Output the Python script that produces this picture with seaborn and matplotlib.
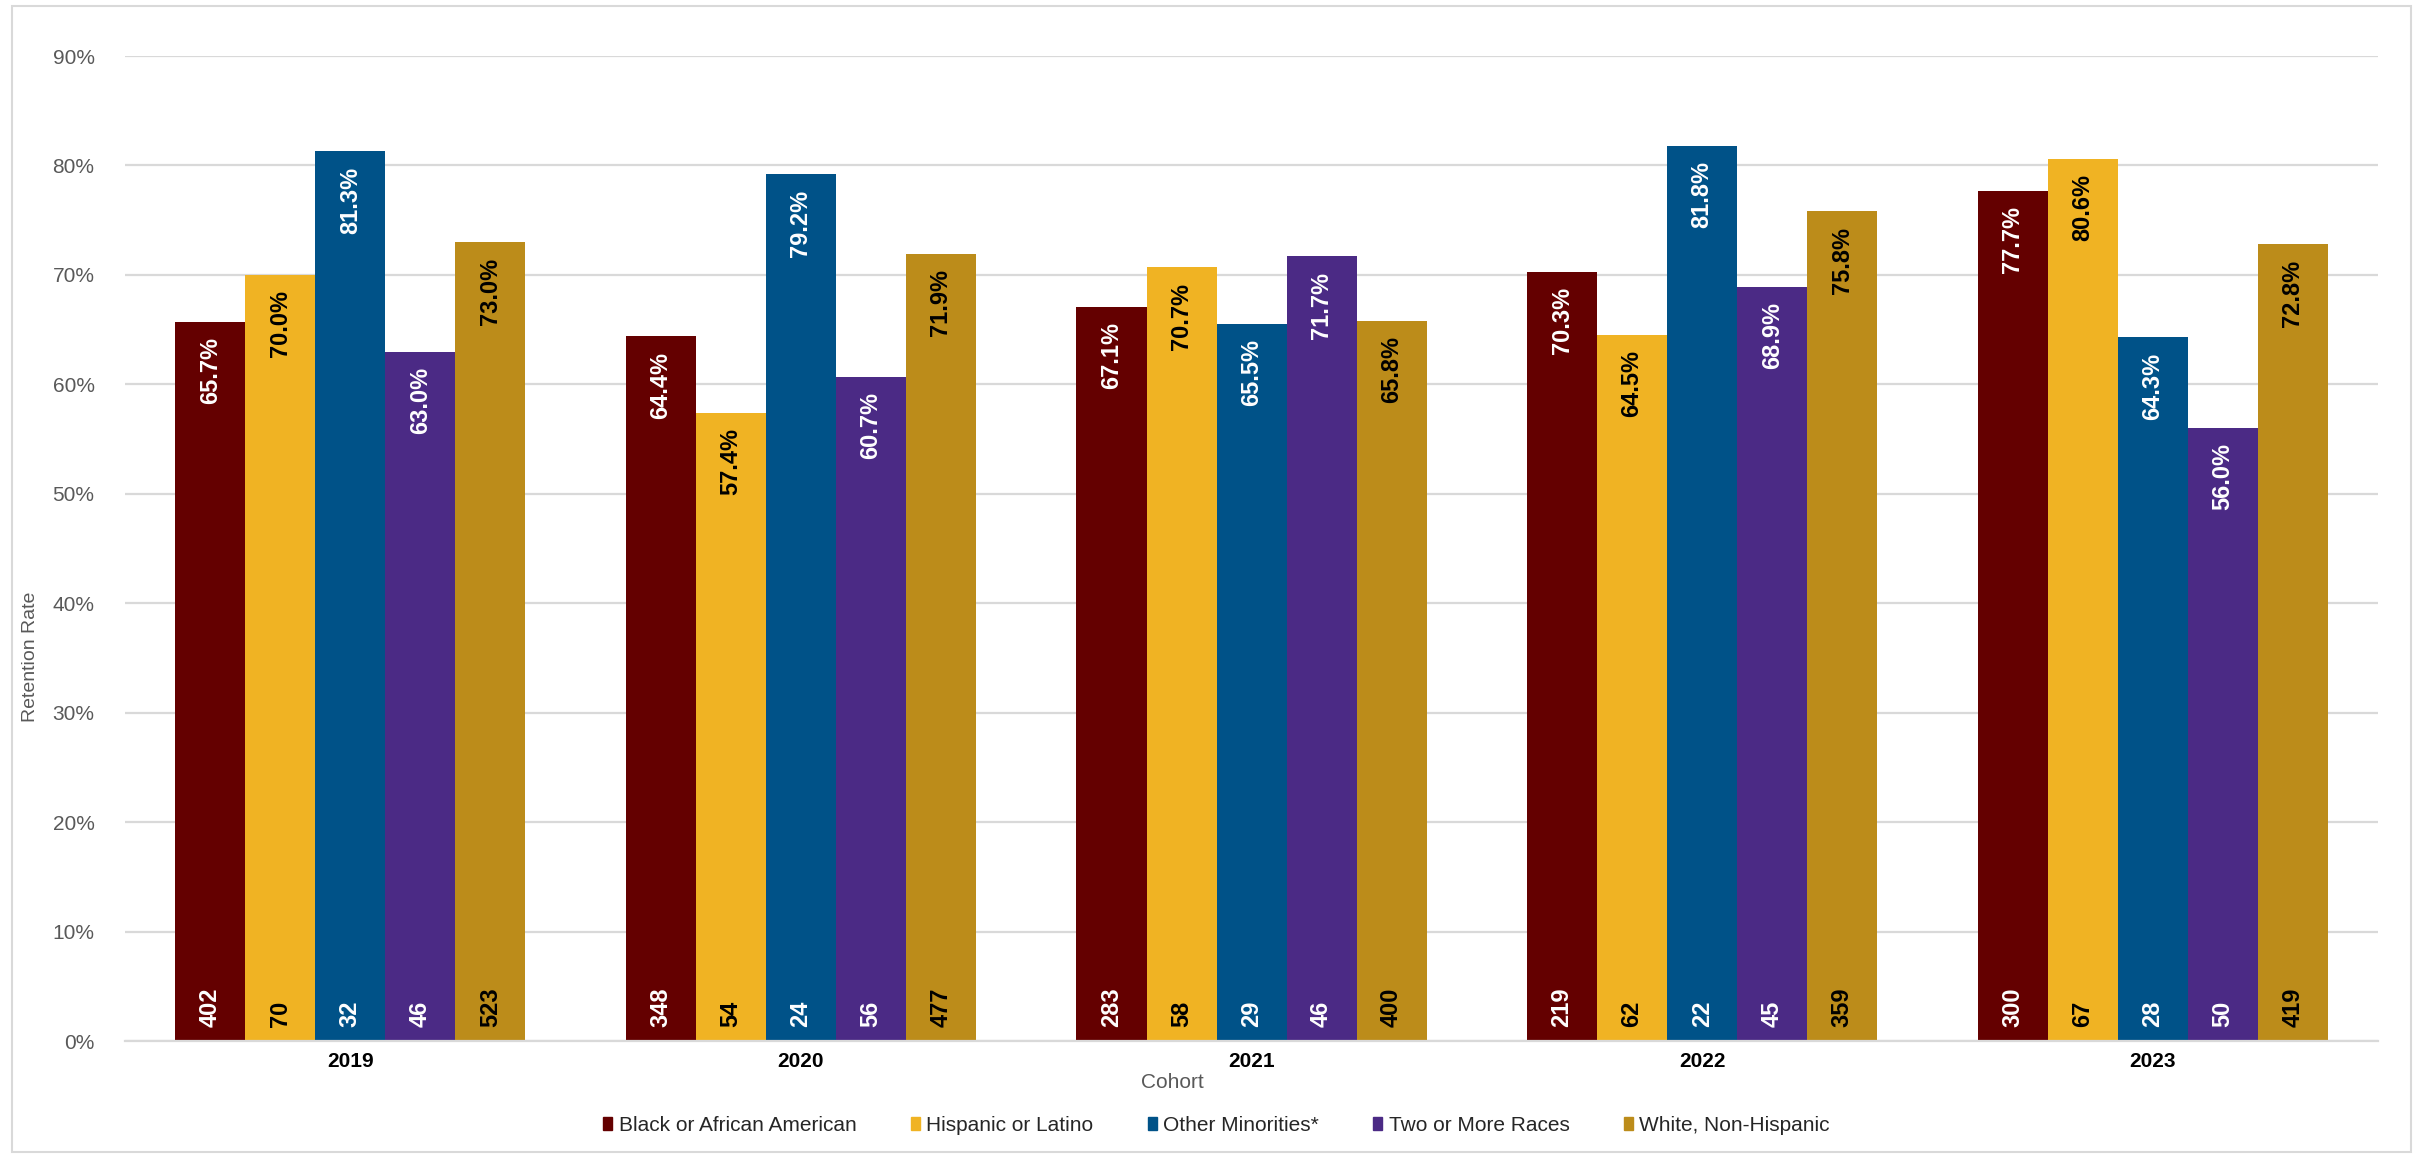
import numpy as np
import pandas as pd
import matplotlib.pyplot as plt
import matplotlib.patches as mpatches
import seaborn as sns

# Data
cohorts = ["2019", "2020", "2021", "2022", "2023"]
groups = ["Black or African American", "Hispanic or Latino", "Other Minorities*",
          "Two or More Races", "White, Non-Hispanic"]
rate_black = [65.7, 64.4, 67.1, 70.3, 77.7]
rate_hisp = [70.0, 57.4, 70.7, 64.5, 80.6]
rate_other = [81.3, 79.2, 65.5, 81.8, 64.3]
rate_two = [63.0, 60.7, 71.7, 68.9, 56.0]
rate_white = [73.0, 71.9, 65.8, 75.8, 72.8]
n_black = [402, 348, 283, 219, 300]
n_hisp = [70, 54, 58, 62, 67]
n_other = [32, 24, 29, 22, 28]
n_two = [46, 56, 46, 45, 50]
n_white = [523, 477, 400, 359, 419]

colors = ["#640000", "#F0B323", "#005288", "#4B2A85", "#BC8C1A"]
label_colors = ["white", "black", "white", "white", "black"]

rates = [rate_black, rate_hisp, rate_other, rate_two, rate_white]
counts = [n_black, n_hisp, n_other, n_two, n_white]
rows = []
for g, r, n in zip(groups, rates, counts):
    for c, rv, nv in zip(cohorts, r, n):
        rows.append({"Cohort": c, "Group": g, "Rate": rv / 100, "N": nv})
df = pd.DataFrame(rows)

sns.set_theme(style="whitegrid")
plt.rcParams['font.family'] = ['Liberation Sans', 'DejaVu Sans']

fig = plt.figure(figsize=(24.33, 11.58), dpi=100)
ax = fig.add_axes([0.0514, 0.101, 0.926, 0.8506])

sns.barplot(data=df, x="Cohort", y="Rate", hue="Group", order=cohorts, hue_order=groups,
            palette=colors, width=0.777, gap=0, saturation=1, edgecolor="none",
            errorbar=None, ax=ax)

# value labels: percentage at top, cohort size at bottom
for i, cont in enumerate(ax.containers):
    for j, bar in enumerate(cont):
        xc = bar.get_x() + bar.get_width() / 2
        h = bar.get_height()
        ax.annotate(f"{h * 100:.1f}%", (xc, h), xytext=(0, -11), textcoords="offset points",
                    rotation=90, ha="center", va="top", fontsize=17, fontweight="bold",
                    color=label_colors[i])
        ax.annotate(f"{counts[i][j]}", (xc, 0), xytext=(0, 10), textcoords="offset points",
                    rotation=90, ha="center", va="bottom", fontsize=17, fontweight="bold",
                    color=label_colors[i])

ax.set_ylim(0, 0.9)
ax.set_xlim(-0.5, 4.5)
ax.set_yticks(np.arange(0, 0.91, 0.1))
ax.set_yticklabels([f"{int(round(v * 100))}%" for v in np.arange(0, 0.91, 0.1)],
                   fontsize=15, color="#595959")
ax.tick_params(axis="x", labelsize=15, colors="black", pad=8, length=0)
ax.tick_params(axis="y", pad=22, length=0)
for t in ax.get_xticklabels():
    t.set_fontweight("bold")

ax.grid(axis="y", color="#d9d9d9", linewidth=1.6)
ax.grid(axis="x", visible=False)
for s in ["top", "right", "left"]:
    ax.spines[s].set_visible(False)
ax.spines["bottom"].set_color("#d9d9d9")
ax.spines["bottom"].set_linewidth(1.6)
ax.set_axisbelow(True)

ax.set_xlabel("Cohort", fontsize=15, color="#595959")
ax.xaxis.set_label_coords(0.465, -0.032)
ax.set_ylabel("Retention Rate", fontsize=14, color="#595959")
ax.yaxis.set_label_coords(-0.038, 0.39)

ax.legend_.remove()
handles = [mpatches.Patch(color=c, label=g) for c, g in zip(colors, groups)]
fig.legend(handles=handles, loc="center", bbox_to_anchor=(0.5, 0.028), ncol=5, frameon=False,
           fontsize=15, handlelength=0.45, handleheight=0.6, handletextpad=0.3,
           columnspacing=2.6)

# light frame around the chart area
fig.add_artist(mpatches.Rectangle((0.005, 0.005), 0.986, 0.99, transform=fig.transFigure,
                                  fill=False, edgecolor="#d9d9d9", linewidth=1.5))

fig.savefig("out.png", dpi=100)
